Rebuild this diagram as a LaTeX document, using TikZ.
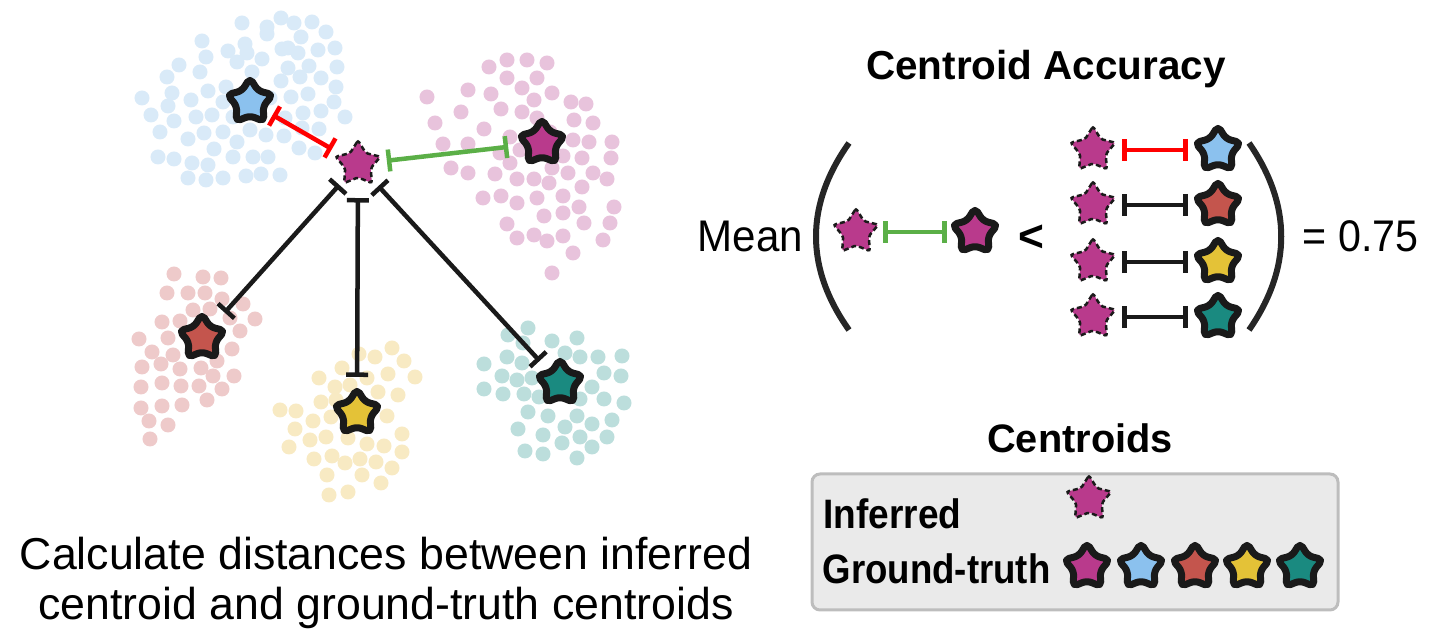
\documentclass[tikz,border=0pt]{standalone}
\usepackage{fontspec}
\setmainfont{Liberation Sans}
\usetikzlibrary{shapes.geometric,arrows.meta}
\definecolor{magstar}{HTML}{B93A8C}
\definecolor{bluestar}{HTML}{8BC1EE}
\definecolor{redstar}{HTML}{C4554D}
\definecolor{yellowstar}{HTML}{E4C237}
\definecolor{tealstar}{HTML}{1A8A80}
\definecolor{bluedot}{HTML}{D9EAF8}
\definecolor{pinkdot}{HTML}{E8C3DC}
\definecolor{reddot}{HTML}{EECACA}
\definecolor{yellowdot}{HTML}{F8EAC3}
\definecolor{tealdot}{HTML}{BCDEDC}
\definecolor{starline}{HTML}{1A1A1A}
\definecolor{redline}{HTML}{FF0000}
\definecolor{greenline}{HTML}{5BAF47}
\definecolor{parcol}{HTML}{262626}
\definecolor{boxfill}{HTML}{EAEAEA}
\definecolor{boxline}{HTML}{BDBDBD}
\begin{document}
\begin{tikzpicture}[x=.01cm,y=-.01cm,
  gtstar/.style={star,star points=5,star point ratio=1.75,minimum size=.48cm,inner sep=0pt,
    draw=starline,line width=.07cm,rounded corners=.05cm,line join=round},
  infstar/.style={star,star points=5,star point ratio=1.75,minimum size=.47cm,inner sep=0pt,
    fill=magstar,draw=starline,line width=.025cm,dash pattern=on .05cm off .03cm,rounded corners=.02cm},
  distbar/.style={line width=.045cm,{Bar[width=.22cm]}-{Bar[width=.22cm]}}]
\useasboundingbox (0,0) rectangle (1441,643);
% point clouds
\foreach \p in {(242,23),(267,27),(281,18),(294,23),(312,22),(326,32),(267,34),(301,37),(202,41),(245,44),
  (228,51),(247,53),(282,49),(288,48),(298,53),(318,50),(335,48),(206,57),(237,62),(262,59),(179,65),
  (309,66),(288,68),(337,67),(167,77),(200,72),(252,72),(281,81),(300,77),(321,78),(336,87),(172,93),
  (208,91),(226,87),(191,100),(223,102),(270,98),(291,97),(308,94),(142,98),(168,106),(334,102),
  (151,115),(174,121),(196,117),(212,115),(303,113),(321,111),(345,117),(160,132),(188,139),(204,133),
  (223,132),(250,130),(266,135),(284,136),(302,128),(319,129),(214,149),(237,142),(299,148),(315,153),
  (158,157),(174,159),(192,163),(208,165),(233,157),(253,157),(268,157),(188,178),(206,180),(223,178),
  (246,176),(261,174),(280,175),(285,118),(233,117)}
  \fill[bluedot] \p circle (.075cm);
\foreach \p in {(489,67),(507,60),(527,60),(547,63),(507,78),(537,78),(427,97),(468,90),(491,94),(522,88),
  (534,100),(552,93),(571,102),(586,104),(461,112),(501,109),(522,112),(537,118),(574,120),(593,123),
  (435,123),(484,129),(510,137),(573,140),(589,142),(612,142),(443,144),(468,144),(500,153),(563,156),
  (582,158),(611,158),(510,163),(552,168),(568,173),(593,173),(607,179),(451,168),(468,173),(495,174),
  (517,179),(534,179),(549,183),(582,187),(483,198),(501,196),(517,203),(537,198),(563,196),(579,207),
  (614,207),(544,216),(563,213),(507,224),(584,223),(610,223),(517,238),(534,235),(547,241),(563,236),
  (603,240),(573,253),(552,273),(550,132),(520,150)}
  \fill[pinkdot] \p circle (.075cm);
\foreach \p in {(174,274),(203,277),(221,278),(167,293),(188,293),(205,293),(222,299),(243,304),(193,310),
  (210,309),(162,322),(180,321),(255,319),(168,338),(240,331),(139,339),(152,352),(173,355),(232,349),
  (217,361),(142,367),(161,364),(180,369),(201,368),(213,376),(234,376),(141,387),(162,383),(181,386),
  (199,386),(222,389),(141,408),(162,406),(182,405),(207,400),(149,421),(168,425),(150,439),(230,318)}
  \fill[reddot] \p circle (.075cm);
\foreach \p in {(359,354),(375,357),(392,348),(404,361),(342,368),(319,378),(335,387),(350,385),(367,378),
  (388,374),(415,377),(321,402),(336,400),(378,392),(398,395),(280,410),(296,411),(313,421),(331,417),
  (387,416),(295,429),(310,440),(326,437),(348,438),(367,444),(384,446),(402,434),(289,447),(314,459),
  (332,456),(345,463),(360,459),(376,462),(402,452),(392,468),(327,475),(362,475),(381,483),(329,495),(348,492)}
  \fill[yellowdot] \p circle (.075cm);
\foreach \p in {(528,328),(508,335),(552,341),(577,338),(523,343),(565,353),(507,357),(580,357),(598,357),
  (622,356),(484,364),(522,363),(502,376),(517,380),(532,378),(604,373),(621,376),(484,389),(503,394),
  (524,394),(539,397),(580,399),(592,387),(604,399),(624,403),(528,412),(548,416),(577,416),(612,420),
  (518,429),(543,435),(565,427),(592,424),(580,437),(607,437),(525,451),(543,454),(562,443),(592,447),(577,458)}
  \fill[tealdot] \p circle (.075cm);
% centroids in the clouds
\node[infstar] (inf) at (358,164) {};
\node[gtstar,fill=bluestar] (gblue) at (250,102) {};
\node[gtstar,fill=magstar] (gpink) at (542,143) {};
\node[gtstar,fill=redstar] (gred) at (202,338) {};
\node[gtstar,fill=yellowstar] (gyellow) at (357,413) {};
\node[gtstar,fill=tealstar] (gteal) at (560,383) {};
\draw[distbar,redline,shorten <=.30cm,shorten >=.26cm] (inf.center) -- (gblue.center);
\draw[distbar,greenline,shorten <=.29cm,shorten >=.34cm] (inf.center) -- (gpink.center);
\draw[distbar,starline,shorten <=.28cm,shorten >=.34cm] (inf.center) -- (gred.center);
\draw[distbar,starline,shorten <=.34cm,shorten >=.36cm] (inf.center) -- (gyellow.center);
\draw[distbar,starline,shorten <=.30cm,shorten >=.30cm] (inf.center) -- (gteal.center);
\node[anchor=base] (cap1) at (386,570) {\fontsize{12.7}{15}\selectfont Calculate distances between inferred};
\node[anchor=base] (cap2) at (386,620) {\fontsize{12.7}{15}\selectfont centroid and ground-truth centroids};
% accuracy formula
\node[anchor=base] (title) at (1046,80) {\fontsize{11.5}{14}\selectfont\bfseries Centroid Accuracy};
\node[anchor=base west,inner sep=0pt] (mean) at (697,252) {\fontsize{12.6}{15}\selectfont\scalebox{.95}[1]{Mean}};
\draw[line width=.06cm,parcol] (849,143) .. controls (805,205) and (805,268) .. (849,330);
\draw[line width=.06cm,parcol] (1249,143) .. controls (1292,205) and (1292,268) .. (1249,330);
\node[infstar] (finf) at (856,232) {};
\node[gtstar,fill=magstar] (fgt) at (975,232) {};
\draw[distbar,greenline,shorten <=.27cm,shorten >=.28cm] (finf.center) -- (fgt.center);
\node (less) at (1031,238) {\fontsize{12.6}{15}\selectfont\bfseries <};
\foreach \y/\c/\l [count=\i] in {150/bluestar/redline,205/redstar/starline,262/yellowstar/starline,317/tealstar/starline}{
  \node[infstar] (rinf\i) at (1093,\y) {};
  \node[gtstar,fill=\c] (rgt\i) at (1218,\y) {};
  \draw[distbar,\l,shorten <=.29cm,shorten >=.30cm] (rinf\i.center) -- (rgt\i.center);
}
\node[anchor=base west,inner sep=0pt] (acc) at (1302,252) {\fontsize{12.6}{15}\selectfont\scalebox{.93}[1]{= 0.75}};
% legend
\node[anchor=base] (ctitle) at (1080,453) {\fontsize{11.3}{14}\selectfont\bfseries Centroids};
\draw[rounded corners=.08cm,line width=.03cm,draw=boxline,fill=boxfill] (812,474) rectangle (1338,610);
\node[anchor=base west,inner sep=0pt] (ltinf) at (823,529) {\fontsize{11.7}{14}\selectfont\bfseries\scalebox{.9}[1]{Inferred}};
\node[anchor=base west,inner sep=0pt] (ltgt) at (822,584) {\fontsize{11.7}{14}\selectfont\bfseries\scalebox{.89}[1]{Ground-truth}};
\node[infstar] (linf) at (1089,499) {};
\foreach \x/\c [count=\i] in {1087/magstar,1141/bluestar,1195/redstar,1247/yellowstar,1300/tealstar}
  \node[gtstar,fill=\c] (lgt\i) at (\x,567) {};
\end{tikzpicture}
\end{document}
